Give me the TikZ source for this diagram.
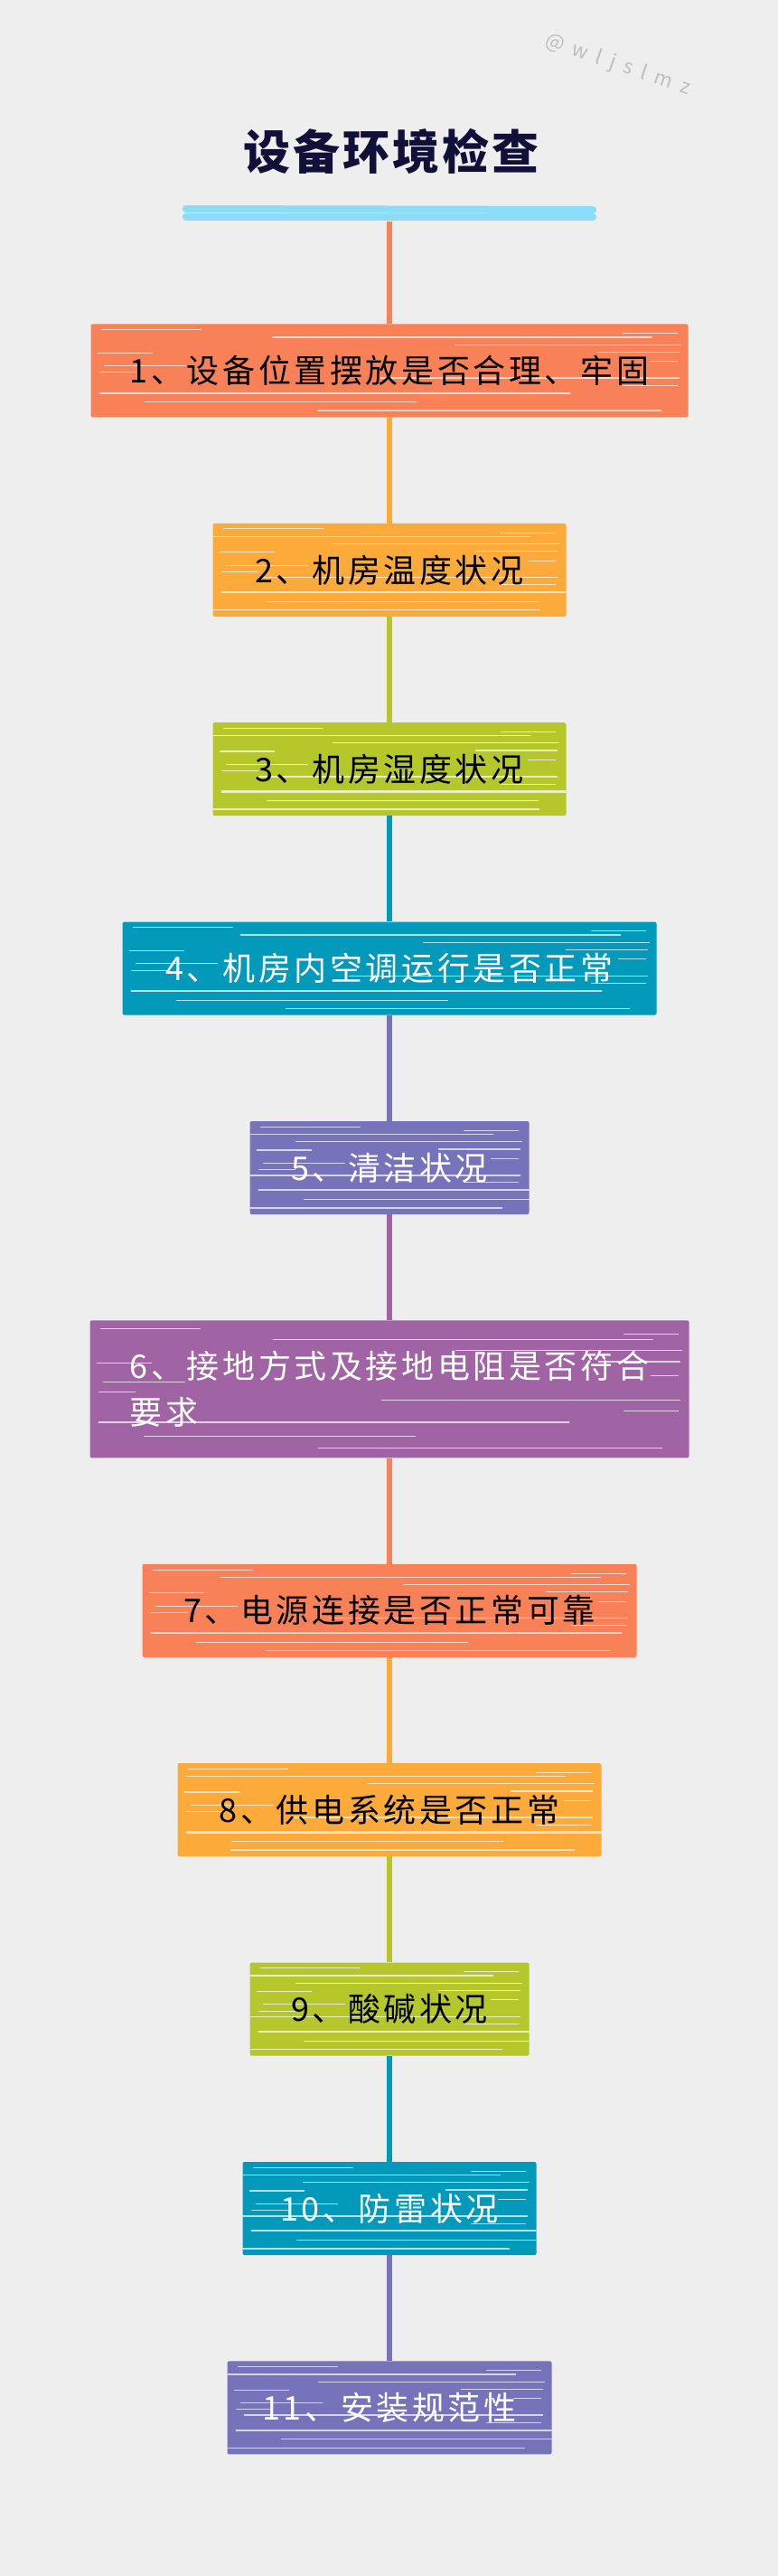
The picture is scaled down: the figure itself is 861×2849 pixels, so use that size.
\documentclass[tikz,border=0pt]{standalone}
\usepackage{fontspec}
\usepackage{tikz}
\usetikzlibrary{positioning,calc}
\newfontfamily\cjkhead{Noto Sans CJK SC}[LetterSpace=6]
\newfontfamily\cjkwide{Noto Sans CJK SC}[LetterSpace=10]
\newfontfamily\cjkmark{Noto Sans CJK SC}[LetterSpace=45]
\newcommand{\boxfont}{\cjkwide\fontsize{36}{51}\selectfont}
\newcommand{\headfont}{\cjkhead\bfseries\fontsize{52}{60}\selectfont}
\definecolor{pagegray}{RGB}{238,238,238}
\definecolor{inknavy}{RGB}{16,16,56}
\definecolor{skyblue}{RGB}{140,220,247}
\definecolor{coral}{RGB}{249,129,88}
\definecolor{amber}{RGB}{252,171,58}
\definecolor{lime}{RGB}{181,199,43}
\definecolor{teal}{RGB}{2,153,186}
\definecolor{periwinkle}{RGB}{118,115,187}
\definecolor{plum}{RGB}{160,100,165}

\begin{document}
\begin{tikzpicture}[
    x=1pt, y=1pt,
    node distance=117pt,
    streak/.style={draw=white, opacity=0.7, line cap=round},
    box/.style={rectangle, rounded corners=2pt, inner sep=0pt,
                minimum height=103pt, font=\boxfont, text=black,
                path picture={
                  % streaks from the left edge
                  \foreach \f/\a/\b/\w in {0.06/12/110/1, 0.31/8/60/1.4, 0.45/15/90/1,
                                           0.52/10/40/1, 0.74/10/520/2.2, 0.84/60/300/1}
                    \draw[streak, line width=\w pt]
                      ($(path picture bounding box.north west)!\f!(path picture bounding box.south west)$)
                      ++(\a,0) -- ++(\b,0);
                  % streaks from the right edge
                  \foreach \f/\a/\b/\w in {0.1/12/60/1, 0.14/40/420/1.4, 0.22/8/250/1,
                                           0.3/10/90/1.4, 0.4/12/30/1, 0.58/10/330/1.6,
                                           0.66/12/60/1, 0.93/30/380/1.4}
                    \draw[streak, line width=\w pt]
                      ($(path picture bounding box.north east)!\f!(path picture bounding box.south east)$)
                      ++(-\a,0) -- ++(-\b,0);
                }},
    darkbox/.style={box, text=white},
    link/.style={line width=6pt},
    barline/.style={draw=skyblue, line width=8pt, line cap=round}
]
\useasboundingbox (0,0) rectangle (861,-2849);
\fill[pagegray] (0,0) rectangle (861,-2849);

% Heading
\node[font=\cjkmark\fontsize{22}{24}\selectfont, text=gray!50, rotate=-19] (mark) at (684,-72) {@wljslmz};
\node[font=\headfont, text=inknavy] (title) at (433,-167) {设备环境检查};
\node[minimum width=450pt, minimum height=18pt, inner sep=0pt] (bar) at (431,-236) {};
\draw[barline] ([yshift=5pt]bar.west) -- ([yshift=4pt]bar.east);
\draw[barline] ([yshift=-4pt]bar.west) -- ([yshift=-4pt]bar.east);

% Check items
\node[box, fill=coral, minimum width=661pt, below=113pt of bar] (b1) {1、设备位置摆放是否合理、牢固};
\node[box, fill=amber, minimum width=391pt, below=of b1] (b2) {2、机房温度状况};
\node[box, fill=lime, minimum width=391pt, below=of b2] (b3) {3、机房湿度状况};
\node[darkbox, fill=teal, minimum width=591pt, below=of b3] (b4) {4、机房内空调运行是否正常};
\node[darkbox, fill=periwinkle, minimum width=309pt, below=of b4] (b5) {5、清洁状况};
\node[darkbox, fill=plum, minimum width=663pt, minimum height=152pt, align=left, below=of b5] (b6)
    {6、接地方式及接地电阻是否符合\\要求};
\node[box, fill=coral, minimum width=547pt, below=of b6] (b7) {7、电源连接是否正常可靠};
\node[box, fill=amber, minimum width=469pt, below=of b7] (b8) {8、供电系统是否正常};
\node[box, fill=lime, minimum width=309pt, below=of b8] (b9) {9、酸碱状况};
\node[darkbox, fill=teal, minimum width=325pt, below=of b9] (b10) {10、防雷状况};
\node[darkbox, fill=periwinkle, minimum width=359pt, below=of b10] (b11) {11、安装规范性};

% Links
\draw[link, coral] (bar) -- (b1);
\draw[link, amber] (b1) -- (b2);
\draw[link, lime] (b2) -- (b3);
\draw[link, teal] (b3) -- (b4);
\draw[link, periwinkle] (b4) -- (b5);
\draw[link, plum] (b5) -- (b6);
\draw[link, coral] (b6) -- (b7);
\draw[link, amber] (b7) -- (b8);
\draw[link, lime] (b8) -- (b9);
\draw[link, teal] (b9) -- (b10);
\draw[link, periwinkle] (b10) -- (b11);

\end{tikzpicture}
\end{document}
